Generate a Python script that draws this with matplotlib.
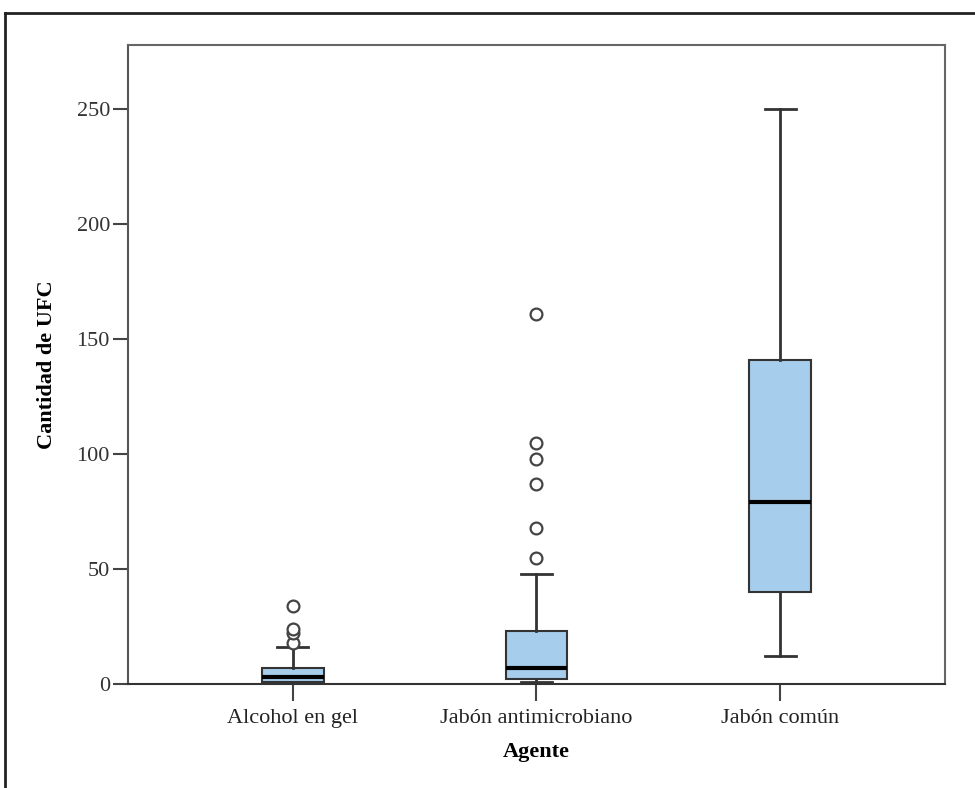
import matplotlib
matplotlib.use("Agg")
import matplotlib.pyplot as plt
from matplotlib.lines import Line2D

# Box plot summaries (UFC counts)
agentes = ["Alcohol en gel", "Jabón antimicrobiano", "Jabón común"]
whis_lo = [0, 1, 12]
q1 = [1, 2, 40]
medianas = [3, 7, 79]
q3 = [7, 23, 141]
whis_hi = [16, 48, 250]
atipicos = [
    [18, 22, 24, 34],
    [55, 68, 87, 98, 105, 161],
    [],
]
yticks = [0, 50, 100, 150, 200, 250]

plt.rcParams['font.family'] = ['Liberation Serif', 'DejaVu Serif']

stats = []
for i, nombre in enumerate(agentes):
    stats.append({
        'label': nombre,
        'whislo': whis_lo[i],
        'q1': q1[i],
        'med': medianas[i],
        'q3': q3[i],
        'whishi': whis_hi[i],
        'fliers': atipicos[i],
    })

fig = plt.figure(figsize=(9.75, 7.88), dpi=100)
ax = fig.add_axes([0.1313, 0.132, 0.8379, 0.8109])

edge = '#333333'
ax.bxp(stats, positions=[1, 2, 3], widths=0.254, patch_artist=True,
       boxprops=dict(facecolor='#a7cdec', edgecolor=edge, linewidth=1.5),
       medianprops=dict(color='black', linewidth=3),
       whiskerprops=dict(color=edge, linewidth=2),
       capprops=dict(color=edge, linewidth=2),
       capwidths=0.127,
       flierprops=dict(marker='o', markerfacecolor='white', markeredgecolor='#444444',
                       markersize=8.5, markeredgewidth=1.6))

ax.set_xlim(0.325, 3.675)
ax.set_ylim(0, 278)
ax.set_yticks(yticks)
ax.set_yticklabels([str(v) for v in yticks])

ax.tick_params(axis='y', direction='out', length=11, width=1.5, color='#444444',
               labelsize=16, labelcolor='#333333', pad=2)
ax.tick_params(axis='x', direction='out', length=12, width=1.5, color='#444444',
               labelsize=16, labelcolor='#222222', pad=6)

for s in ax.spines.values():
    s.set_color('#666666')
    s.set_linewidth(1.5)
ax.spines['bottom'].set_color('#333333')
ax.spines['left'].set_color('#555555')

ax.set_ylabel('Cantidad de UFC', fontsize=16, fontweight='bold', labelpad=14)
ax.set_xlabel('Agente', fontsize=16, fontweight='bold', labelpad=10)

# outer frame of the original figure (top and left edges only visible)
fig.add_artist(Line2D([5 / 975, 1.0], [1 - 13 / 788, 1 - 13 / 788],
                      transform=fig.transFigure, color='#222222', linewidth=2))
fig.add_artist(Line2D([5 / 975, 5 / 975], [0.0, 1 - 13 / 788],
                      transform=fig.transFigure, color='#222222', linewidth=2))

fig.savefig('out.png', dpi=100)
